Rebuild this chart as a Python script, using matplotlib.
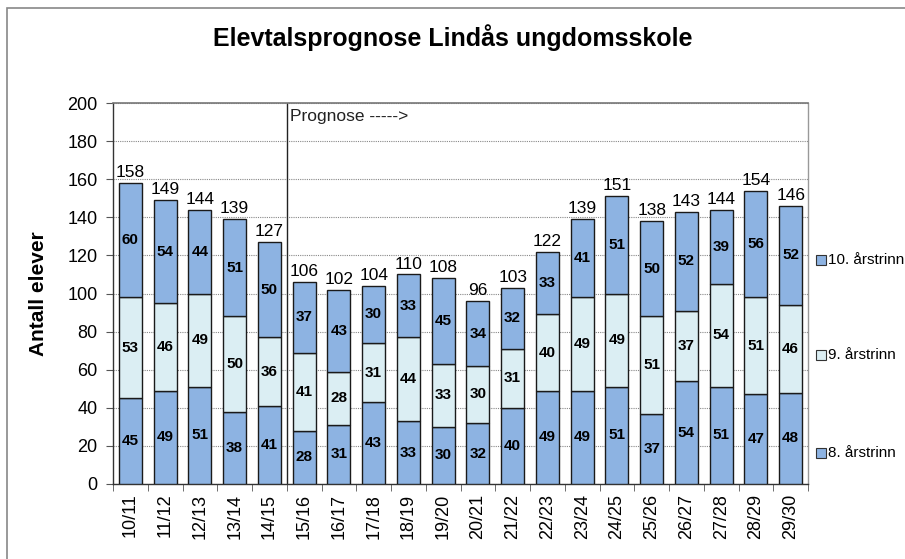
import matplotlib
matplotlib.use("Agg")
import matplotlib.pyplot as plt
import numpy as np
from matplotlib.patches import Rectangle
from matplotlib.lines import Line2D

plt.rcParams['font.family'] = ['Liberation Sans', 'DejaVu Sans']

categories = ["10/11", "11/12", "12/13", "13/14", "14/15", "15/16", "16/17", "17/18",
              "18/19", "19/20", "20/21", "21/22", "22/23", "23/24", "24/25", "25/26",
              "26/27", "27/28", "28/29", "29/30"]
trinn8 = [45, 49, 51, 38, 41, 28, 31, 43, 33, 30, 32, 40, 49, 49, 51, 37, 54, 51, 47, 48]
trinn9 = [53, 46, 49, 50, 36, 41, 28, 31, 44, 33, 30, 31, 40, 49, 49, 51, 37, 54, 51, 46]
trinn10 = [60, 54, 44, 51, 50, 37, 43, 30, 33, 45, 34, 32, 33, 41, 51, 50, 52, 39, 56, 52]
series_names = ["8. årstrinn", "9. årstrinn", "10. årstrinn"]
colors = ["#8DB3E2", "#DBEEF3", "#8DB3E2"]

W, H = 905, 559
fig = plt.figure(figsize=(W / 100, H / 100), dpi=100)
ax = fig.add_axes([113 / W, 1 - 484 / H, (808 - 113) / W, (484 - 103) / H])

x = np.arange(len(categories))
bw = 0.66
bottom = np.zeros(len(categories))
for vals, col in zip([trinn8, trinn9, trinn10], colors):
    vals = np.array(vals)
    ax.bar(x, vals, bw, bottom=bottom, color=col, edgecolor="#1a1a1a", linewidth=1.0, zorder=3)
    for xi, b, v in zip(x, bottom, vals):
        ax.text(xi, b + v / 2, str(v), ha="center", va="center", fontsize=11,
                fontweight="bold", color="black", zorder=4)
    bottom = bottom + vals

for xi, t in zip(x, bottom):
    ax.text(xi, t + 1.5, str(int(t)), ha="center", va="bottom", fontsize=12.5, color="black", zorder=4)

ax.set_xlim(-0.5, len(categories) - 0.5)
ax.set_ylim(0, 200)
ax.set_yticks(np.arange(0, 201, 20))
ax.tick_params(axis="y", labelsize=13, direction="out", length=5, color="#555555", pad=6)
ax.set_xticks(x)
ax.set_xticklabels(categories, rotation=90, fontsize=13)
ax.tick_params(axis="x", length=0, pad=7)
ax.set_xticks(np.arange(-0.5, len(categories), 1), minor=True)
ax.tick_params(axis="x", which="minor", length=5, direction="out", color="#555555")

ax.yaxis.grid(True, linestyle=(0, (1, 1)), color="#888888", linewidth=0.8, zorder=0)
ax.set_axisbelow(True)

for s in ["left", "bottom"]:
    ax.spines[s].set_color("#333333")
    ax.spines[s].set_linewidth(1.0)
ax.spines["top"].set_color("#777777")
ax.spines["top"].set_linewidth(1.2)
ax.spines["right"].set_color("#999999")
ax.spines["right"].set_linewidth(1.0)

ax.axvline(4.5, color="#222222", linewidth=1.0, zorder=2)
ax.text(4.58, 197, "Prognose ----->", ha="left", va="top", fontsize=12.5, color="#222222")

ax.set_ylabel("Antall elever", fontsize=15, fontweight="bold")
ax.yaxis.set_label_coords(-0.094, 0.5)

fig.text(0.5, 1 - 38 / H, "Elevtalsprognose Lindås ungdomsskole", ha="center", va="center",
         fontsize=18, fontweight="bold")

# outer chart border
fig.patches.append(Rectangle((7 / W, -0.1), 1.2, 1 - 8 / H + 0.1, transform=fig.transFigure,
                             fill=False, edgecolor="#888888", linewidth=1.2))

# legend (manual, spread vertically)
leg_y = [453, 355, 260]
for name, col, yy in zip(series_names, colors, leg_y):
    fig.add_artist(Line2D([821 / W], [1 - yy / H], marker="s", markersize=7,
                          markerfacecolor=col, markeredgecolor="#333333",
                          markeredgewidth=0.8, linestyle="none", transform=fig.transFigure))
    fig.text(828 / W, 1 - yy / H, name, ha="left", va="center", fontsize=11)

fig.savefig("out.png", dpi=100)
